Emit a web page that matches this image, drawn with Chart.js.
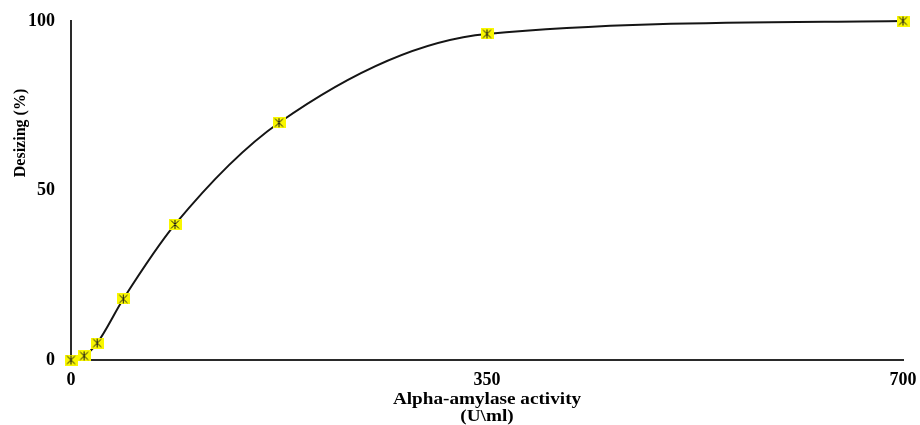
<!DOCTYPE html>
<html>
<head>
<meta charset="utf-8">
<script src="https://cdn.jsdelivr.net/npm/chart.js@4.4.1/dist/chart.umd.min.js"></script>
<style>
  html, body { margin: 0; padding: 0; background: #fff; }
  #wrap { width: 920px; height: 425px; }
</style>
</head>
<body>
<div id="wrap"><canvas id="chart" width="920" height="425"></canvas></div>
<script>
// enzyme activity (U\ml) vs desizing (%)
const activity = [0, 11, 22, 44, 87.5, 175, 350, 700];
const desizing = [0, 1.2, 5, 18, 40, 70, 96.2, 100];
const xTicks = [0, 350, 700];
const yTicks = [0, 50, 100];

const serif = '"Liberation Serif", "Times New Roman", serif';

// yellow square with a black asterisk
function makeMarker() {
  const c = document.createElement('canvas');
  c.width = 13; c.height = 11;
  const g = c.getContext('2d');
  g.fillStyle = '#f9f700';
  g.fillRect(0, 0, 13, 11);
  g.strokeStyle = '#1a1a1a';
  g.lineWidth = 1;
  g.beginPath();
  g.moveTo(2.5, 1.5); g.lineTo(10.5, 9.5);
  g.moveTo(10.5, 1.5); g.lineTo(2.5, 9.5);
  g.moveTo(6.5, 1); g.lineTo(6.5, 10);
  g.stroke();
  return c;
}

// axis titles drawn by hand so they sit where they should
const axisTitles = {
  id: 'axisTitles',
  afterDraw(chart) {
    const ctx = chart.ctx;
    ctx.save();
    ctx.fillStyle = '#000';
    ctx.textAlign = 'center';
    ctx.textBaseline = 'middle';
    ctx.font = 'bold 16px ' + serif;

    ctx.save();
    ctx.translate(21, 133);
    ctx.rotate(-Math.PI / 2);
    ctx.fillText('Desizing (%)', 0, 0);
    ctx.restore();

    const cx = (chart.chartArea.left + chart.chartArea.right) / 2;
    ctx.save();
    ctx.translate(cx, 400);
    ctx.scale(1.2, 1);
    ctx.fillText('Alpha-amylase activity', 0, 0);
    ctx.fillText('(U\\ml)', 0, 17);
    ctx.restore();
    ctx.restore();
  }
};

new Chart(document.getElementById('chart'), {
  type: 'scatter',
  data: {
    datasets: [{
      data: activity.map((x, i) => ({ x, y: desizing[i] })),
      showLine: true,
      borderColor: '#151515',
      borderWidth: 2,
      cubicInterpolationMode: 'monotone',
      pointStyle: makeMarker(),
      clip: false
    }]
  },
  options: {
    responsive: false,
    animation: false,
    layout: { padding: { top: 21, right: 17, left: 0, bottom: 0 } },
    plugins: { legend: { display: false }, tooltip: { enabled: false } },
    scales: {
      x: {
        type: 'linear',
        min: 0,
        max: 700,
        afterBuildTicks: s => { s.ticks = xTicks.map(v => ({ value: v })); },
        afterFit: s => { s.height = 65; s.paddingLeft = 0; s.paddingRight = 0; },
        grid: { display: false, drawTicks: false },
        border: { display: true, color: '#2a2a2a', width: 2 },
        ticks: { color: '#000', padding: 10, font: { family: serif, size: 18, weight: 'bold' } }
      },
      y: {
        min: 0,
        max: 100,
        afterBuildTicks: s => { s.ticks = yTicks.map(v => ({ value: v })); },
        afterFit: s => { s.width = 71; s.paddingTop = 0; s.paddingBottom = 0; },
        grid: { display: false, drawTicks: false },
        border: { display: true, color: '#2a2a2a', width: 2 },
        ticks: { color: '#000', padding: 16, font: { family: serif, size: 18, weight: 'bold' } }
      }
    }
  },
  plugins: [axisTitles]
});
</script>
</body>
</html>
